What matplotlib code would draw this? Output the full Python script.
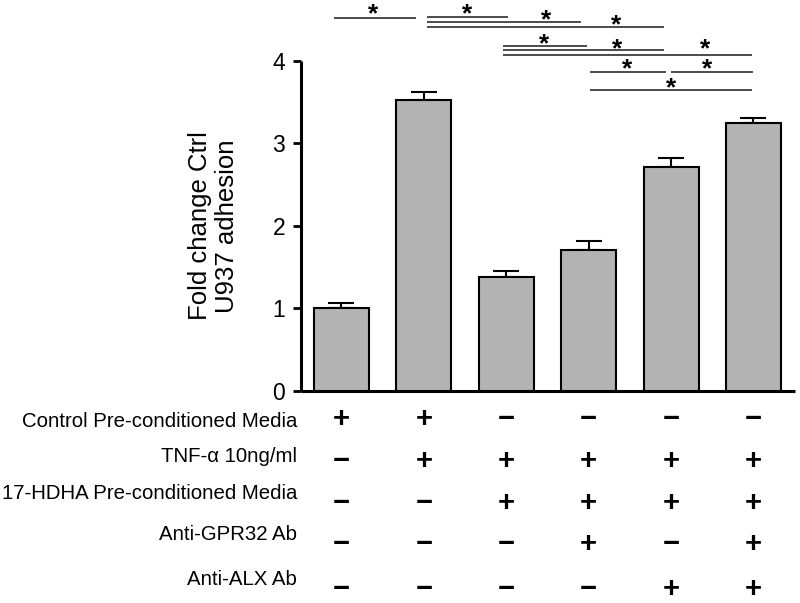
import matplotlib
matplotlib.use("Agg")
import matplotlib.pyplot as plt
import matplotlib.transforms as mtransforms

plt.rcParams['font.family'] = ['Liberation Sans', 'DejaVu Sans']

# ---------------- data ----------------
groups = [0, 1, 2, 3, 4, 5]
means = [1.00, 3.52, 1.38, 1.71, 2.71, 3.25]
errors = [0.06, 0.10, 0.07, 0.10, 0.11, 0.05]

row_labels = ["Control Pre-conditioned Media", "TNF-\u03b1 10ng/ml",
              "17-HDHA Pre-conditioned Media", "Anti-GPR32 Ab", "Anti-ALX Ab"]
row_signs = [
    ["+", "+", "-", "-", "-", "-"],
    ["-", "+", "+", "+", "+", "+"],
    ["-", "-", "+", "+", "+", "+"],
    ["-", "-", "-", "+", "-", "+"],
    ["-", "-", "-", "-", "+", "+"],
]
yticks = [0, 1, 2, 3, 4]
ylabel = "Fold change Ctrl\nU937 adhesion"

# significance lines: (x_start, x_end, y) in data units, and star (x, y)
sig_lines = [
    (-0.09, 0.904, 4.518),
    (1.037, 2.02, 4.527), (1.037, 2.906, 4.469), (1.037, 3.913, 4.412),
    (1.964, 2.979, 4.178), (1.964, 3.913, 4.126), (1.964, 4.982, 4.073),
    (3.016, 3.938, 3.867), (3.999, 4.994, 3.867), (3.016, 4.982, 3.645),
]
sig_stars = [
    (0.382, 4.639),
    (1.523, 4.639), (2.482, 4.566), (3.331, 4.502),
    (2.458, 4.272), (3.343, 4.218), (4.411, 4.211),
    (3.465, 3.968), (4.436, 3.968), (3.999, 3.745),
]

# ---------------- layout ----------------
W, H = 800, 603
fig = plt.figure(figsize=(W / 100, H / 100), dpi=100)

def fx(px):
    return px / W

def fy(py):
    return 1 - py / H

ax_left, ax_right, ax_bottom, ax_top = 301, 795, 390.7, 60.7
ax = fig.add_axes([fx(ax_left), fy(ax_bottom), fx(ax_right - ax_left),
                   (ax_bottom - ax_top) / H])

ax.bar(groups, means, width=0.667, color="#b3b3b3", edgecolor="black",
       linewidth=1.5, zorder=3)
ax.errorbar(groups, means, yerr=[[0] * len(errors), errors], fmt="none",
            ecolor="black", elinewidth=1.5, capsize=9.7, capthick=1.5, zorder=2)

ax.set_xlim(-0.4915, 5.504)
ax.set_ylim(0, 4)
ax.set_yticks(yticks)
ax.set_yticklabels([str(t) for t in yticks], fontsize=16.5)
ax.set_xticks([])
ax.tick_params(axis="y", length=5.5, width=2, pad=6, direction="out")
for s in ["top", "right"]:
    ax.spines[s].set_visible(False)
for s in ["left", "bottom"]:
    ax.spines[s].set_linewidth(2.2)
    ax.spines[s].set_capstyle("butt")

fig.text(fx(213.5), fy(226), ylabel, rotation=90, ha="center", va="center",
         fontsize=18.5, multialignment="center", linespacing=1.2)

# significance annotations
for x0, x1, y in sig_lines:
    ax.plot([x0, x1], [y, y], color="#1a1a1a", linewidth=1.1,
            clip_on=False, solid_capstyle="butt")
star_fs = 19
star_tr = mtransforms.offset_copy(ax.transData, fig=fig, x=0,
                                  y=-0.5 * star_fs, units="points")
for x, y in sig_stars:
    ax.text(x, y, "*", fontsize=star_fs, ha="center", va="baseline",
            fontweight="bold", transform=star_tr, clip_on=False)

# treatment table
label_y = [421.7, 457.0, 493.3, 535.0, 579.3]
sign_y = [419, 461, 503, 544, 589]
blend = mtransforms.blended_transform_factory(ax.transData, fig.transFigure)
for r, lab in enumerate(row_labels):
    fig.text(fx(297), fy(label_y[r]), lab, ha="right", va="center",
             fontsize=14.7)
    for c, s in enumerate(row_signs[r]):
        ch = "+" if s == "+" else "\u2212"
        ax.text(groups[c], fy(sign_y[r]), ch, transform=blend, ha="center",
                va="center", fontsize=21, fontweight="bold", clip_on=False)

fig.savefig("out.png", dpi=100)
